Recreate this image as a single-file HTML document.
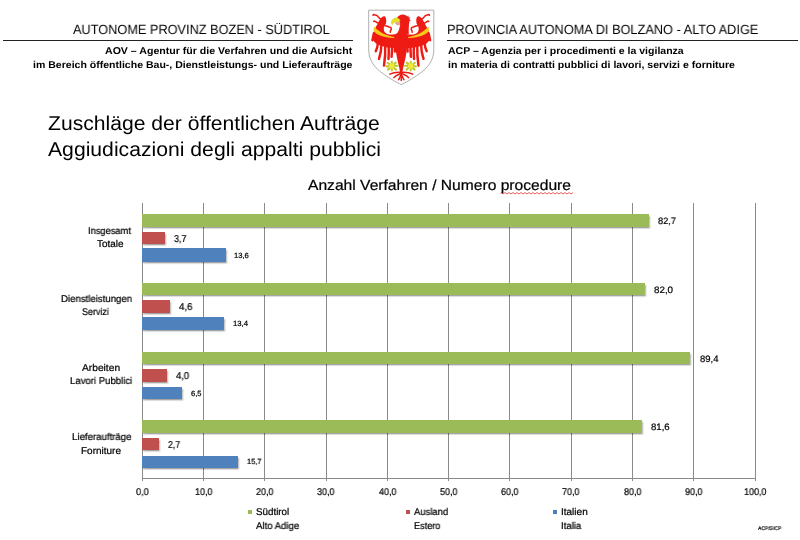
<!DOCTYPE html>
<html><head><meta charset="utf-8"><title>Zuschläge</title>
<style>
html,body{margin:0;padding:0;background:#fff;}
body{width:800px;height:540px;position:relative;overflow:hidden;font-family:"Liberation Sans",sans-serif;}
.t{position:absolute;white-space:nowrap;line-height:1;transform-origin:0 0;will-change:transform;text-rendering:geometricPrecision;}
.k{-webkit-text-stroke:0.22px #000;}
.g{position:absolute;background:#8a8a8a;width:1px;}
.b{position:absolute;box-shadow:1px 1.5px 1.5px rgba(0,0,0,.35);}
.hl{position:absolute;height:1px;background:#222;}
</style></head><body>
<div class="hl" style="left:3px;top:39.7px;width:350px"></div>
<div class="hl" style="left:447px;top:39.7px;width:351px"></div>
<svg style="position:absolute;left:360px;top:5px" width="80" height="85" viewBox="360 5 80 85">
<path d="M368.7 10.2 H433.8 V50 C433.8 60 428 68 419 74 C412 79 405 83 401.25 84.6 C397.5 83 390.5 79 383.5 74 C374.5 68 368.7 60 368.7 50 Z" fill="#fff" stroke="#9b9b9b" stroke-width="0.8"/>
<g>
<path d="M399 33 C395 34.5 391 35 388 34.3 C385.5 33.5 384 32 384 30 C383.6 28.5 383.8 27.5 384.2 26.5 C385 25 386 24 386.1 22.5 C386.4 20 386.3 17 384.7 16.3 C383 15.8 381.5 17.5 380.5 18.8 C379.5 20 378.5 22 377.8 23.5 C376.5 26 375 28 374 31.3 L372.8 36 L372.6 40 L376 43.5 L380 45.5 L386 47.3 L397.5 48.5 Z" fill="#ee1a14"/>
<g stroke="#ee1a14" stroke-linecap="round" fill="none">
<path d="M373.8 33 Q373 37 372.3 40.3" stroke-width="2.2"/>
<g stroke-width="2.45">
<path d="M378 42 Q377.6 48 375.8 51.2"/>
<path d="M381.5 43 Q381.4 52 379 58.8"/>
<path d="M385.2 44 Q385.6 56 384 65.6"/>
<path d="M388.6 44 Q389 52 388.5 59"/>
<path d="M391.9 44 Q392.3 50 391.6 56.8"/>
<path d="M395 44 Q395.3 48 394.9 51.6"/>
</g>
<g stroke-width="1.55">
<path d="M381 19 C379.4 18.8 378.6 17.6 377.8 16.4 C377 15 375.6 15.6 374.8 14.8 C374.2 14.4 373.4 14.6 373 15.2"/>
<path d="M378.6 23.4 C377.4 22.2 376.2 22.6 375.4 21.6 C374.8 21 374.2 21 373.8 21.4"/>
<path d="M385 25.8 C387 25.6 388.5 27.2 390 27.2 C391.4 27.4 391.6 29 390.8 30.2 C390.4 31 390.2 31.6 390.4 32.2"/>
</g>
</g>
<path d="M374 26.6 C376 29 379 31.5 383 33.5 C387 35.5 391 36.6 394.4 37 L394.2 38 C388 38 382 36.8 378.4 34.8 C375.6 33.2 374 31.8 373.5 31 Z" fill="#f8c81c"/>
</g>
<g transform="translate(802.5 0) scale(-1 1)">
<path d="M399 33 C395 34.5 391 35 388 34.3 C385.5 33.5 384 32 384 30 C383.6 28.5 383.8 27.5 384.2 26.5 C385 25 386 24 386.1 22.5 C386.4 20 386.3 17 384.7 16.3 C383 15.8 381.5 17.5 380.5 18.8 C379.5 20 378.5 22 377.8 23.5 C376.5 26 375 28 374 31.3 L372.8 36 L372.6 40 L376 43.5 L380 45.5 L386 47.3 L397.5 48.5 Z" fill="#ee1a14"/>
<g stroke="#ee1a14" stroke-linecap="round" fill="none">
<path d="M373.8 33 Q373 37 372.3 40.3" stroke-width="2.2"/>
<g stroke-width="2.45">
<path d="M378 42 Q377.6 48 375.8 51.2"/>
<path d="M381.5 43 Q381.4 52 379 58.8"/>
<path d="M385.2 44 Q385.6 56 384 65.6"/>
<path d="M388.6 44 Q389 52 388.5 59"/>
<path d="M391.9 44 Q392.3 50 391.6 56.8"/>
<path d="M395 44 Q395.3 48 394.9 51.6"/>
</g>
<g stroke-width="1.55">
<path d="M381 19 C379.4 18.8 378.6 17.6 377.8 16.4 C377 15 375.6 15.6 374.8 14.8 C374.2 14.4 373.4 14.6 373 15.2"/>
<path d="M378.6 23.4 C377.4 22.2 376.2 22.6 375.4 21.6 C374.8 21 374.2 21 373.8 21.4"/>
<path d="M385 25.8 C387 25.6 388.5 27.2 390 27.2 C391.4 27.4 391.6 29 390.8 30.2 C390.4 31 390.2 31.6 390.4 32.2"/>
</g>
</g>
<path d="M374 26.6 C376 29 379 31.5 383 33.5 C387 35.5 391 36.6 394.4 37 L394.2 38 C388 38 382 36.8 378.4 34.8 C375.6 33.2 374 31.8 373.5 31 Z" fill="#f8c81c"/>
</g>
<g fill="#ee1a14">
<path d="M396.8 33 C395.8 38 395.2 45 396 52 C397 60 399.4 66 400.2 73 L402.3 73 C403.1 66 405.5 60 406.5 52 C407.3 45 406.7 38 405.7 33 Z"/>
<path d="M396.8 34 C398.5 31 399.5 29 399.6 27 L400.2 25.5 L399.5 24 C399 22 399 20.5 397 18.2 C398 16 400.5 14.6 402.8 14.6 C404.5 14.6 406 15.4 407 16.4 L408.6 15.6 L408.3 17.3 L410.3 17.5 L409.2 19.2 L410.9 20.2 L409.4 21.3 C409.4 22.5 409.2 23.5 409 24.5 C408.8 27 408.6 30 408.8 34 Z"/>
</g>
<path d="M394.3 22.8 L399.9 21.4 L400.2 24.8 L397.4 25.4 Z" fill="#e9a392"/>
<path d="M399.8 19.6 C398.4 18 396.4 17.5 394.6 18.3 C392.6 19.1 391.2 20.8 391.4 22.6 C391.4 23.6 391.9 24.5 392.5 24.5 C393 23 394 22.3 395.4 22.1 C396.8 21.9 398.4 21.9 400 21.5 Z" fill="#eee222" stroke="#b4c824" stroke-width="0.5"/>
<g stroke="#ee1a14" stroke-width="1.5" stroke-linecap="round" fill="none">
<path d="M401.25 70 L401.25 80.6"/>
<path d="M401 72.4 C398 72.2 393.5 72.4 389.8 74.2"/>
<path d="M401 73.4 C398.6 74.6 395.6 75.4 393.9 77.6"/>
<path d="M401 74.4 C400.4 76.6 399.4 78 398.6 79.8"/>
<path d="M401.5 72.4 C404.5 72.2 409 72.4 412.7 74.2"/>
<path d="M401.5 73.4 C403.9 74.6 406.9 75.4 408.6 77.6"/>
<path d="M401.5 74.4 C402.1 76.6 403.1 78 403.9 79.8"/>
</g>
<g>
<g stroke="#bfcb2c" stroke-width="2.1" stroke-linecap="round" fill="none">
<path d="M387.6 62.8 L396 69.6"/>
<path d="M395.8 62.6 L388 69.6"/>
<path d="M386.6 66.4 L397.6 65.8"/>
<path d="M391.8 61.8 L391.8 70.4"/>
</g>
<circle cx="391.8" cy="66" r="2.7" fill="#f2e83c"/>
</g>
<g transform="translate(802.5 0) scale(-1 1)">
<g stroke="#bfcb2c" stroke-width="2.1" stroke-linecap="round" fill="none">
<path d="M387.6 62.8 L396 69.6"/>
<path d="M395.8 62.6 L388 69.6"/>
<path d="M386.6 66.4 L397.6 65.8"/>
<path d="M391.8 61.8 L391.8 70.4"/>
</g>
<circle cx="391.8" cy="66" r="2.7" fill="#f2e83c"/>
</g>
</svg>
<div class="g" style="left:141.80px;top:202.5px;height:278.9px"></div>
<div class="g" style="left:203.07px;top:202.5px;height:278.9px"></div>
<div class="g" style="left:264.34px;top:202.5px;height:278.9px"></div>
<div class="g" style="left:325.61px;top:202.5px;height:278.9px"></div>
<div class="g" style="left:386.88px;top:202.5px;height:278.9px"></div>
<div class="g" style="left:448.15px;top:202.5px;height:278.9px"></div>
<div class="g" style="left:509.42px;top:202.5px;height:278.9px"></div>
<div class="g" style="left:570.69px;top:202.5px;height:278.9px"></div>
<div class="g" style="left:631.96px;top:202.5px;height:278.9px"></div>
<div class="g" style="left:693.23px;top:202.5px;height:278.9px"></div>
<div class="g" style="left:754.50px;top:202.5px;height:278.9px"></div>
<div style="position:absolute;left:141.80px;top:477.7px;width:613.7px;height:1px;background:#8a8a8a"></div>
<div class="b" style="left:142.3px;top:213.75px;width:506.7px;height:13.05px;background:#9bbb59"></div>
<div class="b" style="left:142.3px;top:231.80px;width:22.7px;height:12.00px;background:#c0504d"></div>
<div class="b" style="left:142.3px;top:248.00px;width:83.3px;height:13.70px;background:#4f81bd"></div>
<div class="b" style="left:142.3px;top:282.80px;width:502.4px;height:12.70px;background:#9bbb59"></div>
<div class="b" style="left:142.3px;top:300.30px;width:28.2px;height:12.50px;background:#c0504d"></div>
<div class="b" style="left:142.3px;top:316.70px;width:82.1px;height:13.00px;background:#4f81bd"></div>
<div class="b" style="left:142.3px;top:351.70px;width:547.8px;height:12.30px;background:#9bbb59"></div>
<div class="b" style="left:142.3px;top:369.20px;width:24.5px;height:12.80px;background:#c0504d"></div>
<div class="b" style="left:142.3px;top:386.70px;width:39.8px;height:12.60px;background:#4f81bd"></div>
<div class="b" style="left:142.3px;top:420.40px;width:500.0px;height:12.50px;background:#9bbb59"></div>
<div class="b" style="left:142.3px;top:437.80px;width:16.5px;height:12.50px;background:#c0504d"></div>
<div class="b" style="left:142.3px;top:455.60px;width:96.2px;height:12.10px;background:#4f81bd"></div>
<div style="position:absolute;left:248px;top:510.2px;width:4.3px;height:4.2px;background:#9bbb59"></div>
<div style="position:absolute;left:405.5px;top:510.2px;width:4.3px;height:4.2px;background:#c0504d"></div>
<div style="position:absolute;left:553px;top:510.2px;width:4.3px;height:4.2px;background:#4f81bd"></div>
<svg style="position:absolute;left:500px;top:190.5px" width="74" height="5" viewBox="0 0 74 5"><path d="M0 2.6 L1 1.6 L3 2.9 L5 1.6 L7 2.9 L9 1.6 L11 2.9 L13 1.6 L15 2.9 L17 1.6 L19 2.9 L21 1.6 L23 2.9 L25 1.6 L27 2.9 L29 1.6 L31 2.9 L33 1.6 L35 2.9 L37 1.6 L39 2.9 L41 1.6 L43 2.9 L45 1.6 L47 2.9 L49 1.6 L51 2.9 L53 1.6 L55 2.9 L57 1.6 L59 2.9 L61 1.6 L63 2.9 L65 1.6 L67 2.9 L69 1.6 L71 2.9 L73 1.6" fill="none" stroke="#e23a3a" stroke-width="0.8"/></svg>
<span class="t" style="left:73.00px;top:23.00px;font-size:13.3px;font-weight:400;color:#000;transform:scaleX(0.9580)">AUTONOME PROVINZ BOZEN - SÜDTIROL</span>
<span class="t" style="left:104.50px;top:47.00px;font-size:9.9px;font-weight:700;color:#000;transform:scaleX(1.0712)">AOV – Agentur für die Verfahren und die Aufsicht</span>
<span class="t" style="left:32.50px;top:61.00px;font-size:9.9px;font-weight:700;color:#000;transform:scaleX(1.0663)">im Bereich öffentliche Bau-, Dienstleistungs- und Lieferaufträge</span>
<span class="t" style="left:446.54px;top:23.00px;font-size:13.3px;font-weight:400;color:#000;transform:scaleX(0.9598)">PROVINCIA AUTONOMA DI BOLZANO - ALTO ADIGE</span>
<span class="t" style="left:447.50px;top:47.00px;font-size:9.9px;font-weight:700;color:#000;transform:scaleX(1.0658)">ACP – Agenzia per i procedimenti e la vigilanza</span>
<span class="t" style="left:447.50px;top:61.00px;font-size:9.9px;font-weight:700;color:#000;transform:scaleX(1.0651)">in materia di contratti pubblici di lavori, servizi e forniture</span>
<span class="t" style="left:47.50px;top:114.00px;font-size:20px;font-weight:400;color:#000;transform:scaleX(1.0559)">Zuschläge der öffentlichen Aufträge</span>
<span class="t" style="left:47.50px;top:140.00px;font-size:20px;font-weight:400;color:#000;transform:scaleX(1.0581)">Aggiudicazioni degli appalti pubblici</span>
<span class="t k" style="left:307.60px;top:179.00px;font-size:14.6px;font-weight:400;color:#000;transform:scaleX(1.0700)">Anzahl Verfahren / Numero procedure</span>
<span class="t k" style="left:88.40px;top:227.00px;font-size:9.8px;font-weight:400;color:#000;transform:scaleX(0.9498)">Insgesamt</span>
<span class="t k" style="left:96.70px;top:240.00px;font-size:9.8px;font-weight:400;color:#000;transform:scaleX(1.0147)">Totale</span>
<span class="t k" style="left:61.00px;top:295.00px;font-size:9.8px;font-weight:400;color:#000;transform:scaleX(0.9807)">Dienstleistungen</span>
<span class="t k" style="left:82.20px;top:308.00px;font-size:9.8px;font-weight:400;color:#000;transform:scaleX(0.9135)">Servizi</span>
<span class="t k" style="left:82.00px;top:364.00px;font-size:9.8px;font-weight:400;color:#000;transform:scaleX(1.0430)">Arbeiten</span>
<span class="t k" style="left:69.80px;top:377.00px;font-size:9.8px;font-weight:400;color:#000;transform:scaleX(0.9757)">Lavori Pubblici</span>
<span class="t k" style="left:71.70px;top:433.00px;font-size:9.8px;font-weight:400;color:#000;transform:scaleX(0.9849)">Lieferaufträge</span>
<span class="t k" style="left:81.20px;top:447.00px;font-size:9.8px;font-weight:400;color:#000;transform:scaleX(1.0188)">Forniture</span>
<span class="t k" style="left:658.30px;top:217.00px;font-size:9.3px;font-weight:400;color:#000;transform:scaleX(0.9867)">82,7</span>
<span class="t k" style="left:653.70px;top:286.00px;font-size:9.3px;font-weight:400;color:#000;transform:scaleX(1.0536)">82,0</span>
<span class="t k" style="left:173.60px;top:235.00px;font-size:10px;font-weight:400;color:#000;transform:scaleX(0.8993)">3,7</span>
<span class="t k" style="left:234.30px;top:252.00px;font-size:7.5px;font-weight:400;color:#000;transform:scaleX(1.0181)">13,6</span>
<span class="t k" style="left:178.70px;top:303.00px;font-size:10px;font-weight:400;color:#000;transform:scaleX(0.9690)">4,6</span>
<span class="t k" style="left:232.70px;top:320.00px;font-size:7.5px;font-weight:400;color:#000;transform:scaleX(1.0320)">13,4</span>
<span class="t k" style="left:255.75px;top:508.00px;font-size:9.8px;font-weight:400;color:#000;transform:scaleX(0.9987)">Südtirol</span>
<span class="t k" style="left:255.75px;top:522.00px;font-size:9.8px;font-weight:400;color:#000;transform:scaleX(0.9793)">Alto Adige</span>
<span class="t k" style="left:413.75px;top:508.00px;font-size:9.8px;font-weight:400;color:#000;transform:scaleX(0.9655)">Ausland</span>
<span class="t k" style="left:413.75px;top:522.00px;font-size:9.8px;font-weight:400;color:#000;transform:scaleX(0.9349)">Estero</span>
<span class="t k" style="left:561.25px;top:508.00px;font-size:9.8px;font-weight:400;color:#000;transform:scaleX(1.0211)">Italien</span>
<span class="t k" style="left:561.25px;top:522.00px;font-size:9.8px;font-weight:400;color:#000;transform:scaleX(0.9763)">Italia</span>
<span class="t k" style="left:757.50px;top:527.00px;font-size:5.2px;font-weight:400;color:#333;transform:scaleX(0.9694)">ACP/SICP</span>
<span class="t k" style="left:175.70px;top:372.00px;font-size:10px;font-weight:400;color:#000;transform:scaleX(0.9481)">4,0</span>
<span class="t k" style="left:190.50px;top:390.00px;font-size:7.5px;font-weight:400;color:#000;transform:scaleX(0.9935)">6,5</span>
<span class="t k" style="left:168.10px;top:441.00px;font-size:10px;font-weight:400;color:#000;transform:scaleX(0.8784)">2,7</span>
<span class="t k" style="left:247.00px;top:458.00px;font-size:7.5px;font-weight:400;color:#000;transform:scaleX(0.9766)">15,7</span>
<span class="t k" style="left:699.50px;top:355.00px;font-size:9.3px;font-weight:400;color:#000;transform:scaleX(1.0201)">89,4</span>
<span class="t k" style="left:651.00px;top:423.00px;font-size:9.3px;font-weight:400;color:#000;transform:scaleX(1.0313)">81,6</span>
<span class="t k" style="left:135.98px;top:488.00px;font-size:9.8px;font-weight:400;color:#000;transform:scaleX(0.9346)">0,0</span>
<span class="t k" style="left:194.87px;top:488.00px;font-size:9.8px;font-weight:400;color:#000;transform:scaleX(0.9170)">10,0</span>
<span class="t k" style="left:256.14px;top:488.00px;font-size:9.8px;font-weight:400;color:#000;transform:scaleX(0.9170)">20,0</span>
<span class="t k" style="left:317.41px;top:488.00px;font-size:9.8px;font-weight:400;color:#000;transform:scaleX(0.9170)">30,0</span>
<span class="t k" style="left:378.68px;top:488.00px;font-size:9.8px;font-weight:400;color:#000;transform:scaleX(0.9170)">40,0</span>
<span class="t k" style="left:439.95px;top:488.00px;font-size:9.8px;font-weight:400;color:#000;transform:scaleX(0.9170)">50,0</span>
<span class="t k" style="left:501.22px;top:488.00px;font-size:9.8px;font-weight:400;color:#000;transform:scaleX(0.9170)">60,0</span>
<span class="t k" style="left:562.49px;top:488.00px;font-size:9.8px;font-weight:400;color:#000;transform:scaleX(0.9170)">70,0</span>
<span class="t k" style="left:623.76px;top:488.00px;font-size:9.8px;font-weight:400;color:#000;transform:scaleX(0.9170)">80,0</span>
<span class="t k" style="left:685.03px;top:488.00px;font-size:9.8px;font-weight:400;color:#000;transform:scaleX(0.9170)">90,0</span>
<span class="t k" style="left:743.80px;top:488.00px;font-size:9.8px;font-weight:400;color:#000;transform:scaleX(0.9170)">100,0</span>
</body></html>
